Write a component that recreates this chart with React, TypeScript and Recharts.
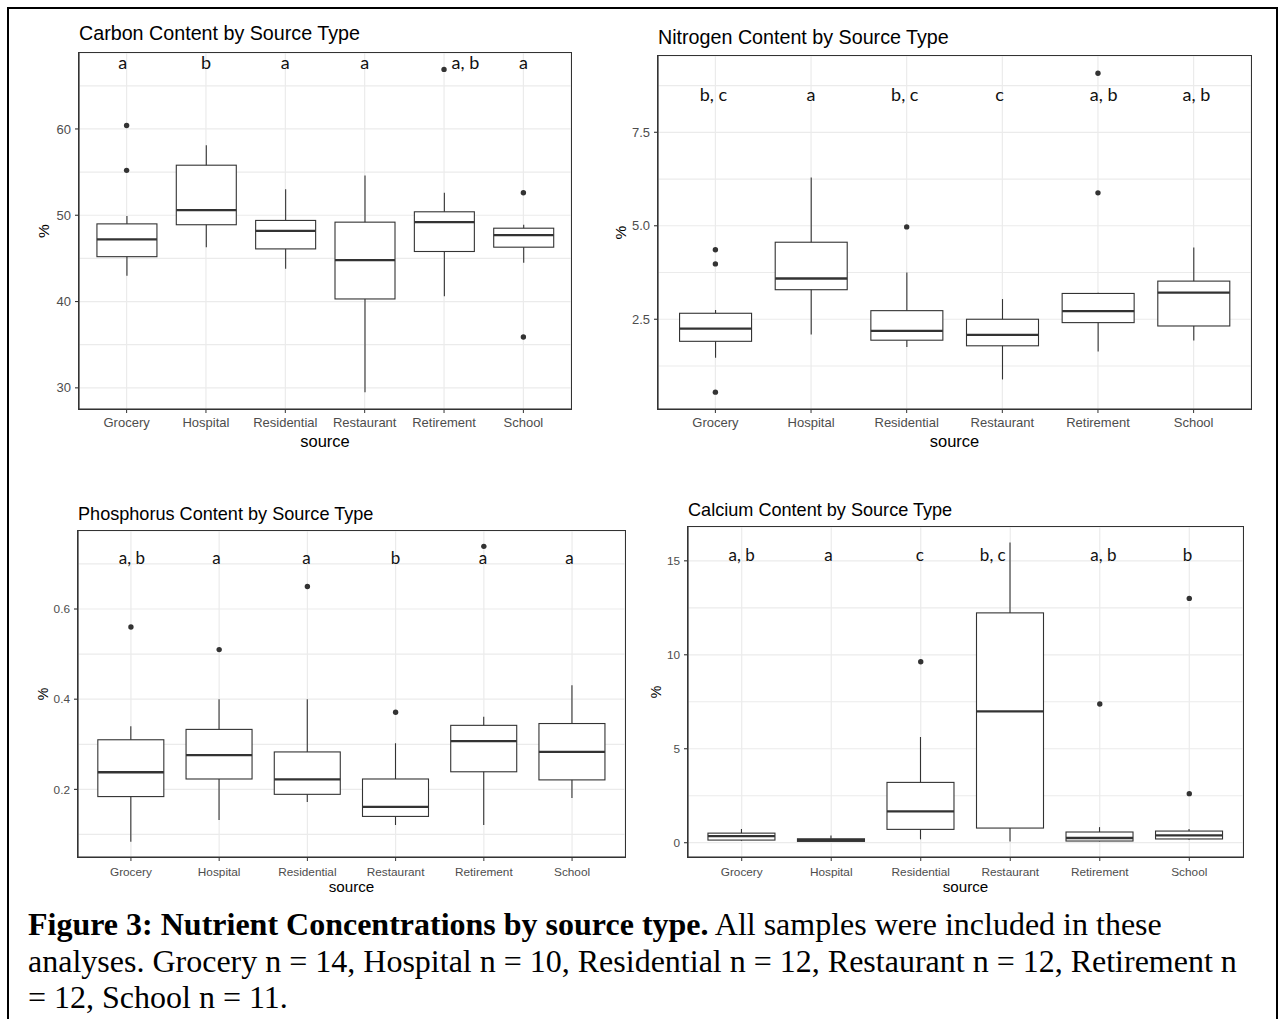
import React from "react";
import { Bar, CartesianGrid, ComposedChart, Scatter, XAxis, YAxis } from "recharts";

const sources = ["Grocery", "Hospital", "Residential", "Restaurant", "Retirement", "School"];

// each row: [lower whisker, Q1, median, Q3, upper whisker]
const carbonStats = [
  [43.0, 45.2, 47.2, 49.0, 49.9],
  [46.3, 48.9, 50.6, 55.8, 58.1],
  [43.8, 46.1, 48.2, 49.4, 53.0],
  [29.5, 40.3, 44.8, 49.2, 54.6],
  [40.6, 45.8, 49.2, 50.4, 52.6],
  [44.5, 46.3, 47.7, 48.5, 48.9],
];
const carbonOutliers = [[60.4, 55.2], [], [], [], [66.9], [52.6, 35.9]];
const carbonLetters = ["a", "b", "a", "a", "a, b", "a"];
const carbonTicks = [30, 40, 50, 60];
const carbonMinor = [35, 45, 55, 65];
const carbonDomain = [27.55, 68.8];
const carbonLetterY = 67.7;

const nitrogenStats = [
  [1.47, 1.91, 2.25, 2.66, 2.75],
  [2.09, 3.29, 3.59, 4.56, 6.29],
  [1.76, 1.94, 2.19, 2.73, 3.75],
  [0.89, 1.79, 2.08, 2.5, 3.04],
  [1.64, 2.41, 2.72, 3.19, 3.21],
  [1.93, 2.32, 3.21, 3.52, 4.42],
];
const nitrogenOutliers = [[4.36, 3.98, 0.55], [], [4.97], [], [5.88, 9.08], []];
const nitrogenLetters = ["b, c", "a", "b, c", "c", "a, b", "a, b"];
const nitrogenTicks = [2.5, 5, 7.5];
const nitrogenMinor = [1.25, 3.75, 6.25, 8.75];
const nitrogenDomain = [0.1, 9.54];
const nitrogenLetterY = 8.5;

const phosphorusStats = [
  [0.084, 0.184, 0.238, 0.31, 0.34],
  [0.132, 0.223, 0.276, 0.333, 0.4],
  [0.172, 0.189, 0.222, 0.283, 0.4],
  [0.121, 0.14, 0.161, 0.223, 0.302],
  [0.121, 0.239, 0.307, 0.342, 0.361],
  [0.181, 0.221, 0.283, 0.346, 0.431],
];
const phosphorusOutliers = [[0.56], [0.51], [0.65], [0.371], [0.739], []];
const phosphorusLetters = ["a, b", "a", "a", "b", "a", "a"];
const phosphorusTicks = [0.2, 0.4, 0.6];
const phosphorusMinor = [0.1, 0.3, 0.5, 0.7];
const phosphorusDomain = [0.05, 0.773];
const phosphorusLetterY = 0.714;

const calciumStats = [
  [0.1, 0.14, 0.35, 0.51, 0.73],
  [0.05, 0.07, 0.14, 0.21, 0.39],
  [0.18, 0.71, 1.67, 3.21, 5.62],
  [0.07, 0.78, 6.99, 12.23, 15.98],
  [0.07, 0.09, 0.25, 0.57, 0.83],
  [0.16, 0.2, 0.39, 0.62, 0.73],
];
const calciumOutliers = [[], [], [9.63], [], [7.38], [13.0, 2.61]];
const calciumLetters = ["a, b", "a", "c", "b, c", "a, b", "b"];
const calciumTicks = [0, 5, 10, 15];
const calciumMinor = [2.5, 7.5, 12.5];
const calciumDomain = [-0.76, 16.8];
const calciumLetterY = 15.3;

const INK = "#333333";
const GRID = "#EBEBEB";
const TICK_TEXT = "#4D4D4D";
const SANS = '"Liberation Sans", Arial, sans-serif';

const AXIS_W = 70;
const TOP_M = 10;
const XAXIS_H = 48;
const RIGHT_M = 5;

function buildRows(stats: number[][], outliers: number[][], letters: string[], letterY: number) {
  return sources.map((source, i) => {
    const [lo, q1, med, q3, hi] = stats[i];
    const out = outliers[i];
    return {
      source,
      whisker: [lo, hi],
      box: [q1, q3],
      q1,
      med,
      q3,
      o1: out[0],
      o2: out[1],
      o3: out[2],
      letter: letters[i],
      letterY,
    };
  });
}

const WhiskerShape = (p: any) => {
  const top = Math.min(p.y, p.y + p.height);
  const h = Math.abs(p.height);
  const cx = p.x + p.width / 2;
  return <line x1={cx} x2={cx} y1={top} y2={top + h} stroke={INK} strokeWidth={1.1} />;
};

const BoxShape = (p: any) => {
  const top = Math.min(p.y, p.y + p.height);
  const h = Math.abs(p.height);
  const { q1, med, q3 } = p.payload;
  const my = top + (h * (q3 - med)) / (q3 - q1);
  return (
    <g>
      <rect x={p.x} y={top} width={p.width} height={h} fill="#fff" stroke={INK} strokeWidth={1.1} />
      <line x1={p.x} x2={p.x + p.width} y1={my} y2={my} stroke={INK} strokeWidth={2.3} />
    </g>
  );
};

const dotShape = (key: string) => (p: any) =>
  p.payload[key] == null ? <g /> : <circle cx={p.cx} cy={p.cy} r={2.7} fill={INK} />;

type Layout = {
  left: number;
  top: number;
  width: number;
  height: number;
  titleBaseline: number;
  titleSize: number;
  tickFont: number;
  tickMargin: number;
  axisTitleSize: number;
  letterSize: number;
  sourceDrop: number;
  pctShift: number;
  nudges: number[];
};

function Panel({
  title,
  rows,
  domain,
  major,
  minor,
  fmt,
  layout,
}: {
  title: string;
  rows: any[];
  domain: number[];
  major: number[];
  minor: number[];
  fmt: (v: number) => string;
  layout: Layout;
}) {
  const band = layout.width / 6.2;
  const pad = band * 0.1;
  const boxW = Math.round(band * 0.75);
  const allTicks = [...major, ...minor].sort((a, b) => a - b);

  const YTick = (p: any) => {
    const v = p.payload.value;
    if (!major.includes(v)) return <g />;
    return (
      <g>
        <line x1={p.x + 4} x2={p.x + 8} y1={p.y} y2={p.y} stroke={INK} strokeWidth={1.1} />
        <text x={p.x} y={p.y} dy="0.355em" textAnchor="end" fill={TICK_TEXT} fontSize={layout.tickFont} fontFamily={SANS}>
          {fmt(v)}
        </text>
      </g>
    );
  };

  const LetterShape = (p: any) => {
    const i = sources.indexOf(p.payload.source);
    return (
      <text
        x={p.cx + layout.nudges[i] * band}
        y={p.cy}
        dy="0.35em"
        textAnchor="middle"
        fontFamily="Lato, 'Open Sans', sans-serif"
        fontSize={layout.letterSize}
        fill="#111"
      >
        {p.payload.letter}
      </text>
    );
  };

  return (
    <>
      <div
        style={{
          position: "absolute",
          left: layout.left,
          top: layout.titleBaseline - 0.8465 * layout.titleSize,
          fontFamily: SANS,
          fontSize: layout.titleSize,
          lineHeight: 1,
          color: "#000",
          whiteSpace: "nowrap",
        }}
      >
        {title}
      </div>
      <div style={{ position: "absolute", left: layout.left - AXIS_W, top: layout.top - TOP_M }}>
        <ComposedChart
          width={AXIS_W + layout.width + RIGHT_M}
          height={TOP_M + layout.height + XAXIS_H}
          data={rows}
          margin={{ top: TOP_M, right: RIGHT_M, bottom: 0, left: 0 }}
          barSize={boxW}
          barGap={-boxW}
        >
          <CartesianGrid stroke={GRID} strokeWidth={1.2} />
          <XAxis
            dataKey="source"
            interval={0}
            padding={{ left: pad, right: pad }}
            height={XAXIS_H}
            tickSize={4}
            tickMargin={layout.tickMargin}
            stroke={INK}
            axisLine={{ stroke: INK, strokeWidth: 1.2 }}
            tick={{ fill: TICK_TEXT, fontSize: layout.tickFont, fontFamily: SANS }}
            label={{
              content: (lp: any) => {
                const vb = lp.viewBox;
                return (
                  <text
                    x={vb.x + vb.width / 2}
                    y={vb.y + layout.sourceDrop}
                    textAnchor="middle"
                    fill="#000"
                    fontSize={layout.axisTitleSize}
                    fontFamily={SANS}
                  >
                    source
                  </text>
                );
              },
            }}
          />
          <YAxis
            type="number"
            domain={domain}
            allowDataOverflow
            ticks={allTicks}
            interval={0}
            width={AXIS_W}
            tickSize={4}
            tickMargin={4}
            tickLine={false}
            axisLine={{ stroke: INK, strokeWidth: 1.2 }}
            tick={YTick}
            label={{
              content: (lp: any) => {
                const vb = lp.viewBox;
                const x = vb.x + vb.width - layout.pctShift;
                const y = vb.y + vb.height / 2;
                return (
                  <text
                    x={x}
                    y={y}
                    dy="0.35em"
                    textAnchor="middle"
                    transform={`rotate(-90 ${x} ${y})`}
                    fill="#000"
                    fontSize={layout.axisTitleSize - 1}
                    fontFamily={SANS}
                  >
                    %
                  </text>
                );
              },
            }}
          />
          <Bar dataKey="whisker" shape={WhiskerShape} isAnimationActive={false} />
          <Bar dataKey="box" shape={BoxShape} isAnimationActive={false} />
          <Scatter dataKey="o1" shape={dotShape("o1")} isAnimationActive={false} />
          <Scatter dataKey="o2" shape={dotShape("o2")} isAnimationActive={false} />
          <Scatter dataKey="o3" shape={dotShape("o3")} isAnimationActive={false} />
          <Scatter dataKey="letterY" shape={LetterShape} isAnimationActive={false} />
        </ComposedChart>
      </div>
      {/* panel border (theme_bw) */}
      <div
        style={{
          position: "absolute",
          left: layout.left - 0.6,
          top: layout.top - 0.6,
          width: layout.width + 1.2,
          height: layout.height + 1.2,
          border: `1.2px solid ${INK}`,
          boxSizing: "border-box",
          pointerEvents: "none",
        }}
      />
    </>
  );
}

const topPanel = {
  titleSize: 19.7,
  tickFont: 13,
  tickMargin: 5,
  axisTitleSize: 16.5,
  letterSize: 18,
  sourceDrop: 37.5,
  pctShift: 35,
};
const bottomPanel = {
  titleSize: 18.1,
  tickFont: 11.8,
  tickMargin: 6.5,
  axisTitleSize: 15.2,
  letterSize: 17,
  sourceDrop: 35,
  pctShift: 34,
};

const carbonLayout: Layout = {
  ...topPanel,
  left: 79,
  top: 53,
  width: 492,
  height: 356,
  titleBaseline: 41,
  nudges: [-0.05, 0, 0, 0, 0.27, 0],
};
const nitrogenLayout: Layout = {
  ...topPanel,
  left: 658,
  top: 56,
  width: 593,
  height: 353,
  titleBaseline: 45,
  pctShift: 37,
  nudges: [-0.02, 0, -0.02, -0.03, 0.06, 0.03],
};
const phosphorusLayout: Layout = {
  ...bottomPanel,
  left: 78,
  top: 531,
  width: 547,
  height: 326,
  titleBaseline: 520,
  pctShift: 35,
  nudges: [0.01, -0.03, -0.01, 0, -0.01, -0.03],
};
const calciumLayout: Layout = {
  ...bottomPanel,
  left: 688,
  top: 527,
  width: 555,
  height: 330,
  titleBaseline: 516.7,
  pctShift: 32,
  nudges: [0, -0.03, -0.01, -0.195, 0.04, -0.02],
};

export default function App() {
  return (
    <div
      style={{
        position: "fixed",
        left: 0,
        top: 0,
        width: 1280,
        height: 1019,
        overflow: "hidden",
        background: "#fff",
      }}
    >
      <div
        style={{
          position: "absolute",
          left: 7,
          top: 7,
          width: 1271,
          height: 1100,
          border: "2px solid #000",
          boxSizing: "border-box",
        }}
      />
      <Panel
        title="Carbon Content by Source Type"
        rows={buildRows(carbonStats, carbonOutliers, carbonLetters, carbonLetterY)}
        domain={carbonDomain}
        major={carbonTicks}
        minor={carbonMinor}
        fmt={(v) => String(v)}
        layout={carbonLayout}
      />
      <Panel
        title="Nitrogen Content by Source Type"
        rows={buildRows(nitrogenStats, nitrogenOutliers, nitrogenLetters, nitrogenLetterY)}
        domain={nitrogenDomain}
        major={nitrogenTicks}
        minor={nitrogenMinor}
        fmt={(v) => v.toFixed(1)}
        layout={nitrogenLayout}
      />
      <Panel
        title="Phosphorus Content by Source Type"
        rows={buildRows(phosphorusStats, phosphorusOutliers, phosphorusLetters, phosphorusLetterY)}
        domain={phosphorusDomain}
        major={phosphorusTicks}
        minor={phosphorusMinor}
        fmt={(v) => v.toFixed(1)}
        layout={phosphorusLayout}
      />
      <Panel
        title="Calcium Content by Source Type"
        rows={buildRows(calciumStats, calciumOutliers, calciumLetters, calciumLetterY)}
        domain={calciumDomain}
        major={calciumTicks}
        minor={calciumMinor}
        fmt={(v) => String(v)}
        layout={calciumLayout}
      />
      <div
        style={{
          position: "absolute",
          left: 28,
          top: 906,
          fontFamily: '"Liberation Serif", "Times New Roman", serif',
          fontSize: 32,
          lineHeight: "36.5px",
          color: "#000",
          whiteSpace: "nowrap",
        }}
      >
        <b>Figure 3: Nutrient Concentrations by source type.</b> All samples were included in these
        <br />
        analyses. Grocery n = 14, Hospital n = 10, Residential n = 12, Restaurant n = 12, Retirement n
        <br />= 12, School n = 11.
      </div>
    </div>
  );
}
